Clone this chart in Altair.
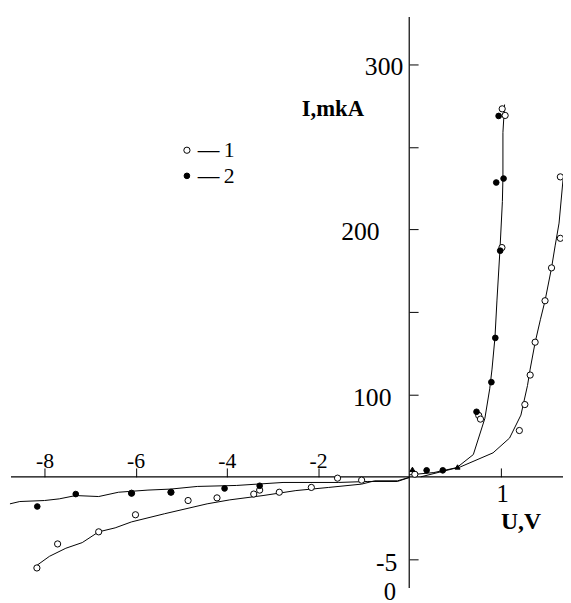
import altair as alt
import pandas as pd

# ---------------- data (U in V, I in mkA) ----------------
# series 1 : open circles
u_open = [0.061, 0.758, 0.777, 1.011, 1.014, 1.046, 1.201, 1.261, 1.319, 1.373, 1.481, 1.552, 1.648, 1.648,
          -8.166, -7.712, -6.811, -6.004, -4.850, -4.216, -3.41, -3.28, -2.85, -2.147, -1.572, -1.044,
          -6.09, -5.226]
i_open = [3.1, 74.8, 70.3, 189.1, 273.1, 269.1, 56.4, 88.0, 111.9, 131.8, 156.9, 176.8, 194.7, 231.9,
          -5.50, -4.05, -3.32, -2.29, -1.43, -1.27, -1.04, -0.80, -0.93, -0.64, -0.08, -0.20,
          -0.99, -0.93]
# series 2 : filled dots
u_fill = [0.190, 0.366, 0.734, 0.896, 0.939, 0.992, 0.949, 1.029, 0.975,
          -8.158, -7.314, -6.091, -5.226, -4.05, -3.28]
i_fill = [7.9, 7.9, 79.2, 107.6, 134.4, 187.2, 228.5, 230.9, 268.8,
          -1.79, -1.04, -0.99, -0.93, -0.70, -0.54]
# triangles near the origin
u_tri = [0.035, 0.527]
i_tri = [9.1, 12.0]

# drawn curves
curve_a_u = [0, 0.269, 0.519, 0.699, 0.825, 0.878, 0.903, 0.935, 0.957, 0.989, 1.016, 1.022, 1.022, 1.040]
curve_a_i = [2.4, 5.2, 11.2, 27.1, 71.2, 103.6, 115.5, 134.6, 157.3, 187.2, 217.0, 231.3, 258.8, 275.7]
curve_b_u = [0.126, 0.556, 0.914, 1.094, 1.218, 1.290, 1.319, 1.373, 1.430, 1.481, 1.552, 1.591, 1.634, 1.677]
curve_b_i = [0, 12.0, 29.2, 47.2, 75.2, 105.6, 115.5, 131.6, 145.4, 156.9, 176.8, 190.1, 203.9, 230.1]
curve_c_u = [-8.757, -8.541, -8.0, -7.676, -7.315, -6.811, -6.378, -5.730, -5.232, -4.649, -3.784,
             -2.768, -1.557, -0.908, -0.259, 0]
curve_c_i = [-1.63, -1.49, -1.43, -1.33, -1.13, -1.19, -0.93, -0.80, -0.74, -0.58, -0.52,
             -0.34, -0.34, -0.28, -0.28, -0.04]
curve_d_u = [-8.195, -7.892, -7.531, -7.172, -6.811, -6.450, -6.091, -5.369, -4.432, -3.935, -3.206,
             -2.486, -1.766, -1.044, -0.757, -0.259, 0]
curve_d_i = [-5.40, -4.80, -4.31, -3.97, -3.32, -3.08, -2.72, -2.23, -1.63, -1.39, -1.13,
             -0.83, -0.64, -0.44, -0.24, -0.24, -0.04]

x_ticks = [-8, -6, -4, -2, 1]
y_ticks = [-5, 100, 150, 200, 250, 300]
y_labelled = [-5, 100, 200, 300]
y_label_text = ["-5", "100", "200", "300"]
series_names = ["1", "2", "3"]

# ---------------- tables ----------------
pts = pd.concat([
    pd.DataFrame({"u": u_open, "i": i_open, "series": "1"}),
    pd.DataFrame({"u": u_fill, "i": i_fill, "series": "2"}),
    pd.DataFrame({"u": u_tri, "i": i_tri, "series": "3"}),
], ignore_index=True)

curves = []
for name, cu, ci in [("a", curve_a_u, curve_a_i), ("b", curve_b_u, curve_b_i),
                     ("c", curve_c_u, curve_c_i), ("d", curve_d_u, curve_d_i)]:
    curves.append(pd.DataFrame({"u": cu, "i": ci, "curve": name, "k": range(len(cu))}))
curves = pd.concat(curves, ignore_index=True)

# piecewise scales (the original figure uses different scales on each side)
W, H = 563, 595
xs = alt.Scale(domain=[-8.8, 0, 1.677], range=[0, 407, 563], nice=False, zero=False)
ys = alt.Scale(domain=[-7.36, 0, 100, 331.6], range=[595, 471.3, 388, 0], nice=False, zero=False)

FONT = "Liberation Serif"
x_axis = alt.Axis(orient="top", offset=-471.3, values=x_ticks, domain=False, grid=False,
                  tickSize=9, tickColor="black", tickWidth=1,
                  labelExpr="datum.value == 1 ? '' : '-' + abs(datum.value)",
                  labelFont=FONT, labelFontSize=22, labelColor="black", labelPadding=0,
                  labelBaseline="alphabetic", labelOverlap=False, labelFlush=False, title=None)
y_axis = alt.Axis(orient="right", offset=-156, values=y_ticks, domain=False, grid=False,
                  tickSize=9, tickColor="black", tickWidth=1, labels=False, title=None)

X = alt.X("u:Q", scale=xs, axis=x_axis)
Y = alt.Y("i:Q", scale=ys, axis=y_axis)

# axis lines
xline = alt.Chart(pd.DataFrame({"u": [-8.735], "u2": [1.677], "i": [0]})).mark_rule(
    color="black", strokeWidth=1.2).encode(x=X, x2="u2:Q", y=Y)
yline = alt.Chart(pd.DataFrame({"u": [0], "i": [-6.71], "i2": [328.7]})).mark_rule(
    color="black", strokeWidth=1.2).encode(x=X, y=Y, y2="i2:Q")

lines = alt.Chart(curves).mark_line(color="black", strokeWidth=1).encode(
    x=X, y=Y, detail="curve:N", order="k:Q")

legend = alt.Legend(orient="none", legendX=170.5, legendY=129, title=None,
                    values=["1", "2"], labelExpr="'—\u2009' + datum.label",
                    labelFont=FONT, labelFontSize=22, labelColor="black",
                    symbolStrokeWidth=1,
                    rowPadding=4, padding=0, labelOffset=0)

points = alt.Chart(pts).mark_point(filled=True, strokeWidth=1, opacity=1).encode(
    x=X, y=Y,
    fill=alt.Fill("series:N", scale=alt.Scale(domain=series_names, range=["white", "black", "black"]),
                  legend=legend),
    stroke=alt.Stroke("series:N", scale=alt.Scale(domain=series_names, range=["black", "black", "black"]),
                      legend=legend),
    shape=alt.Shape("series:N", scale=alt.Scale(domain=series_names,
                                                range=["circle", "circle", "triangle-up"]), legend=legend),
    size=alt.Size("series:N", scale=alt.Scale(domain=series_names, range=[40, 26, 34]), legend=legend),
)


def label(text, u, i, size, bold=False, align="left", baseline="alphabetic", dx=0, dy=0):
    return alt.Chart(pd.DataFrame({"u": [u], "i": [i], "t": [text]})).mark_text(
        font=FONT, fontSize=size, fontWeight="bold" if bold else "normal", color="black",
        align=align, baseline=baseline, dx=dx, dy=dy).encode(x=X, y=Y, text="t:N")


# y tick labels (the scan places them at slightly different distances from the axis)
y_label_dx = [-12, -18, -30, -6]
texts = [label(t, 0, v, 26, align="right", baseline="middle", dx=d, dy=3)
         for t, v, d in zip(y_label_text, y_labelled, y_label_dx)]

texts += [
    label("I,mkA", -2.357, 269.0, 23, bold=True),
    label("U,V", 1.0, -3.12, 24, bold=True),
    label("1", 1.02, -1.53, 25, align="center"),
    label("0", -0.288, -7.45, 25, align="right"),
]

chart = alt.layer(lines, xline, yline, points, *texts).properties(
    width=W, height=H, padding=0, autosize=alt.AutoSizeParams(type="none"),
    background="white"
).configure_view(stroke=None)

chart.save("out.html", embed_options={"renderer": "svg", "actions": False})
